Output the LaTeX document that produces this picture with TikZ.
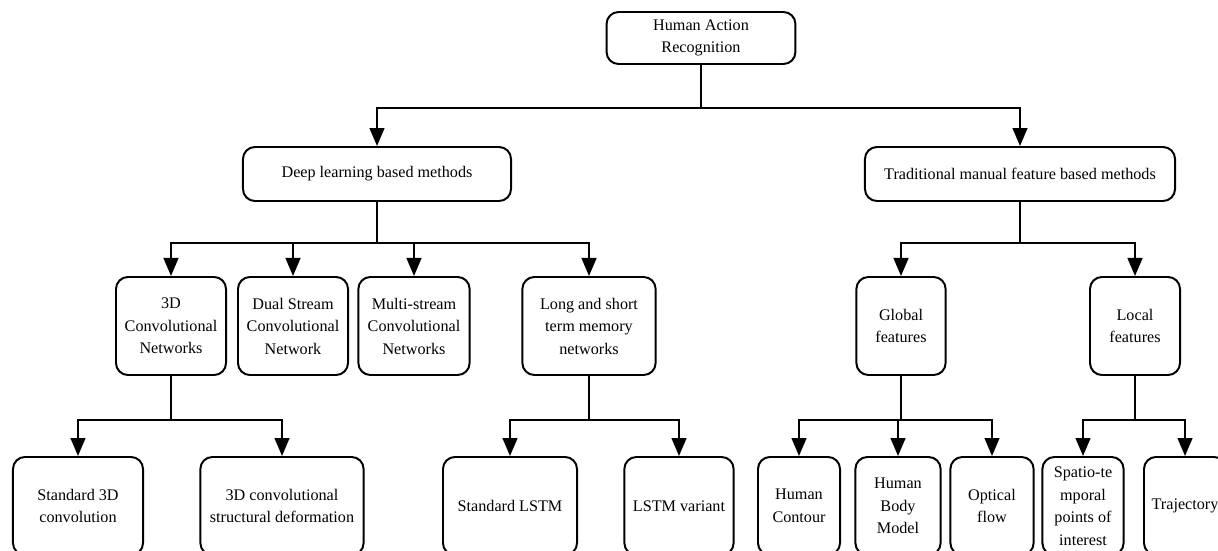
\documentclass[tikz,border=0pt]{standalone}
\usepackage{fontspec}
\setmainfont{Liberation Serif}
\usetikzlibrary{arrows.meta}
\tikzset{
  box/.style={draw, line width=1.4pt, rounded corners=0.3cm, align=center,
    inner sep=1pt, font=\fontsize{11.5}{16}\selectfont},
  tall/.style={box, minimum height=2.45cm},
  arr/.style={line width=1.4pt, -{Triangle[length=0.45cm,width=0.37cm]}},
  stem/.style={line width=1.4pt}
}
\begin{document}
\begin{tikzpicture}[x=0.025cm, y=-0.025cm]
   \useasboundingbox (0,0) rectangle (1218,551);

   \pgfmathsetmacro{\yA}{38}
   \pgfmathsetmacro{\yB}{174}
   \pgfmathsetmacro{\yC}{326}
   \pgfmathsetmacro{\yD}{506}

   \node[box, minimum width=4.72cm, minimum height=1.3cm] (har) at (701, \yA) {Human Action\\Recognition};

   \node[box, minimum width=6.7cm, minimum height=1.35cm] (deep) at (377, \yB) {Deep learning based methods};
   \node[box, minimum width=7.75cm, minimum height=1.35cm] (trad) at (1020, \yB) {Traditional manual feature based methods};

   \node[tall, minimum width=2.75cm] (conv3d) at (171, \yC) {3D\\Convolutional\\Networks};
   \node[tall, minimum width=2.75cm] (dual) at (293, \yC) {Dual Stream\\Convolutional\\Network};
   \node[tall, minimum width=2.78cm] (multi) at (414, \yC) {Multi-stream\\Convolutional\\Networks};
   \node[tall, minimum width=3.33cm] (lstm) at (589, \yC) {Long and short\\term memory\\networks};
   \node[tall, minimum width=2.23cm] (global) at (901, \yC) {Global\\features};
   \node[tall, minimum width=2.25cm] (local) at (1135, \yC) {Local\\features};

   \node[tall, minimum width=3.25cm] (std3d) at (78, \yD) {Standard 3D\\convolution};
   \node[tall, minimum width=4.08cm] (deform) at (282, \yD) {3D convolutional\\structural deformation};
   \node[tall, minimum width=3.35cm] (stdlstm) at (510, \yD) {Standard LSTM};
   \node[tall, minimum width=2.73cm] (variant) at (679, \yD) {LSTM variant};
   \node[tall, minimum width=2.05cm] (contour) at (799, \yD) {Human\\Contour};
   \node[tall, minimum width=2.13cm] (body) at (898, \yD) {Human\\Body\\Model};
   \node[tall, minimum width=2.08cm] (optical) at (992, \yD) {Optical\\flow};
   \node[tall, minimum width=2.03cm] (spatio) at (1083, \yD) {Spatio-te\\mporal\\points of\\interest};
   \node[tall, minimum width=2.05cm] (traj) at (1185, \yD) {Trajectory};

   \coordinate (j0) at (701, 108);
   \coordinate (j1) at (377, 243);
   \coordinate (j2) at (1020, 243);
   \coordinate (j3) at (171, 420);
   \coordinate (j4) at (589, 420);
   \coordinate (j5) at (901, 420);
   \coordinate (j6) at (1135, 420);

   \draw[stem] (har) -- (j0);
   \draw[arr] (j0) -| (deep);
   \draw[arr] (j0) -| (trad);

   \draw[stem] (deep) -- (j1);
   \foreach \k in {conv3d, dual, multi, lstm}
      \draw[arr] (j1) -| (\k);

   \draw[stem] (trad) -- (j2);
   \draw[arr] (j2) -| (global);
   \draw[arr] (j2) -| (local);

   \draw[stem] (conv3d) -- (j3);
   \draw[arr] (j3) -| (std3d);
   \draw[arr] (j3) -| (deform);

   \draw[stem] (lstm) -- (j4);
   \draw[arr] (j4) -| (stdlstm);
   \draw[arr] (j4) -| (variant);

   \draw[stem] (global) -- (j5);
   \foreach \k in {contour, body, optical}
      \draw[arr] (j5) -| (\k);

   \draw[stem] (local) -- (j6);
   \draw[arr] (j6) -| (spatio);
   \draw[arr] (j6) -| (traj);
\end{tikzpicture}
\end{document}
